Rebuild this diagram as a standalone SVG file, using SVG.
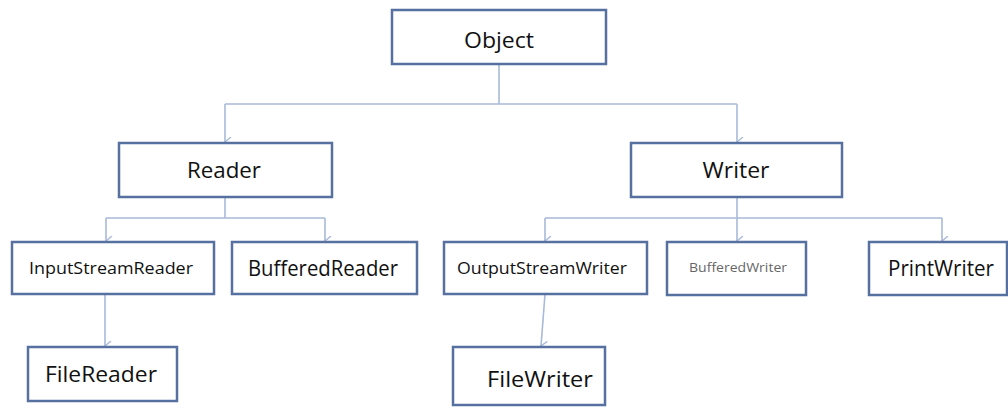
<svg xmlns="http://www.w3.org/2000/svg" width="1008" height="408" viewBox="0 0 1008 408">
  <style>
    .box { fill: #ffffff; stroke: #56709f; stroke-width: 2.5; }
    .lbl { font-family: "Open Sans", "Noto Sans", "DejaVu Sans", sans-serif; fill: #111111; text-anchor: middle; }
    .big { font-size: 21px; }
    .mid { font-size: 17px; }
    .sm { font-size: 12px; fill: #666666; }
    .wire { fill: none; stroke: #a9b9d9; stroke-width: 1.6; }
  </style>
  <defs>
    <marker id="tip" viewBox="0 0 10 8" refX="5" refY="7" markerWidth="10" markerHeight="8" markerUnits="userSpaceOnUse" orient="auto-start-reverse">
      <path d="M0,1 L5,7 L10,1" fill="none" stroke="#a9b9d9" stroke-width="1.4"/>
    </marker>
  </defs>
  <rect width="1008" height="408" fill="#ffffff"/>

  <!-- connectors -->
  <g id="connectors" class="wire">
    <path d="M499,64 V104"/>
    <path d="M225,104 H737"/>
    <path d="M225,104 V142" marker-end="url(#tip)"/>
    <path d="M737,104 V142" marker-end="url(#tip)"/>
    <path d="M225,197 V218"/>
    <path d="M106,218 H325"/>
    <path d="M106,218 V241" marker-end="url(#tip)"/>
    <path d="M325,218 V241" marker-end="url(#tip)"/>
    <path d="M737,197 V218"/>
    <path d="M545,218 H942"/>
    <path d="M545,218 V241" marker-end="url(#tip)"/>
    <path d="M737,218 V241" marker-end="url(#tip)"/>
    <path d="M942,218 V241" marker-end="url(#tip)"/>
    <path d="M105,294 V346" marker-end="url(#tip)"/>
    <path d="M545,294 L541,346" marker-end="url(#tip)"/>
  </g>

  <g id="object">
    <rect class="box" x="392" y="10" width="214" height="54"/>
    <text class="lbl big" x="499" y="48" textLength="70" lengthAdjust="spacingAndGlyphs">Object</text>
  </g>

  <g id="reader">
    <rect class="box" x="119" y="143" width="213" height="54"/>
    <text class="lbl big" x="224" y="178" textLength="74" lengthAdjust="spacingAndGlyphs">Reader</text>
  </g>

  <g id="writer">
    <rect class="box" x="631" y="143" width="211" height="54"/>
    <text class="lbl big" x="736" y="178" textLength="67" lengthAdjust="spacingAndGlyphs">Writer</text>
  </g>

  <g id="inputstreamreader">
    <rect class="box" x="12" y="242" width="202" height="52"/>
    <text class="lbl mid" x="111" y="274" textLength="164" lengthAdjust="spacingAndGlyphs">InputStreamReader</text>
  </g>

  <g id="bufferedreader">
    <rect class="box" x="232" y="242" width="185" height="52"/>
    <text class="lbl big" x="323" y="276" textLength="150" lengthAdjust="spacingAndGlyphs">BufferedReader</text>
  </g>

  <g id="outputstreamwriter">
    <rect class="box" x="444" y="242" width="203" height="52"/>
    <text class="lbl mid" x="542" y="274" textLength="170" lengthAdjust="spacingAndGlyphs">OutputStreamWriter</text>
  </g>

  <g id="bufferedwriter">
    <rect class="box" x="667" y="242" width="139" height="53"/>
    <text class="lbl sm" x="738" y="272" textLength="98" lengthAdjust="spacingAndGlyphs">BufferedWriter</text>
  </g>

  <g id="printwriter">
    <rect class="box" x="869" y="242" width="138" height="53"/>
    <text class="lbl big" x="941" y="276" textLength="106" lengthAdjust="spacingAndGlyphs">PrintWriter</text>
  </g>

  <g id="filereader">
    <rect class="box" x="28" y="347" width="149" height="54"/>
    <text class="lbl big" x="101" y="382" textLength="112" lengthAdjust="spacingAndGlyphs">FileReader</text>
  </g>

  <g id="filewriter">
    <rect class="box" x="453" y="347" width="152" height="58"/>
    <text class="lbl big" x="540" y="387" textLength="106" lengthAdjust="spacingAndGlyphs">FileWriter</text>
  </g>
</svg>
